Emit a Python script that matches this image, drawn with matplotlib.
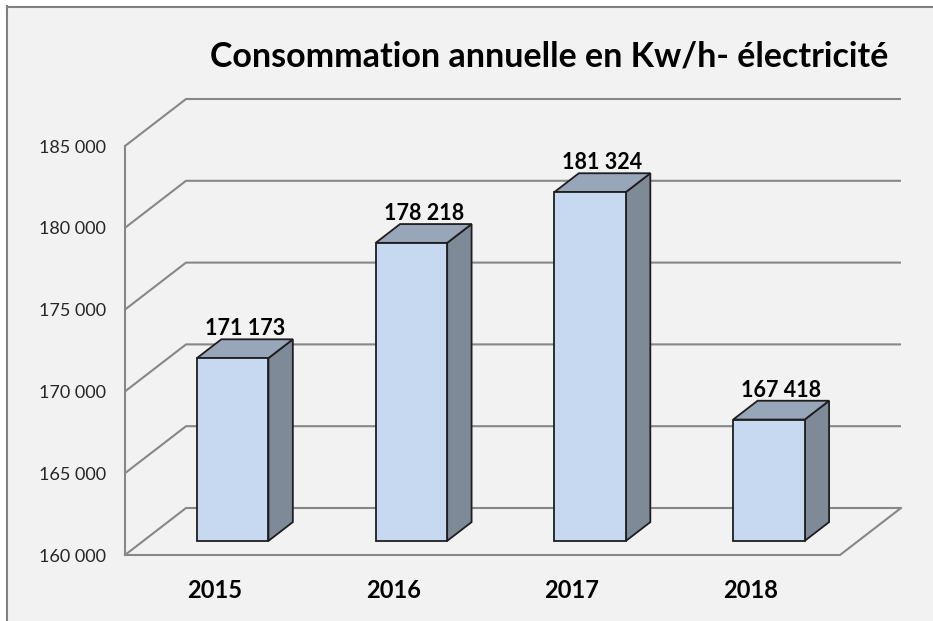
import matplotlib
matplotlib.use('Agg')
import matplotlib.pyplot as plt
from matplotlib.patches import Polygon, Rectangle
from matplotlib.lines import Line2D

plt.rcParams['font.family'] = ['Lato', 'DejaVu Sans']

years = ['2015', '2016', '2017', '2018']
consumption = [171173, 178218, 181324, 167418]
y_ticks = [160000, 165000, 170000, 175000, 180000, 185000]
title = 'Consommation annuelle en Kw/h- électricité'

W, H = 933, 621
bg = '#F2F2F2'
grid_col = '#878787'
front_col = '#C6D9F1'
side_col = '#7E8A98'
top_col = '#98A6BA'
edge_col = '#1E1E1E'

# fake 3d: depth z in [0, 1] shifts points right and up
DX = 0.3413
DY = 2873
z0, z1 = 0.30, 0.70
bar_w = 0.4
base = y_ticks[0]


def proj(x, v, z):
    return (x + z * DX, v + z * DY)


fig = plt.figure(figsize=(W / 100, H / 100), dpi=100, facecolor='white')
fig.patches.append(Rectangle((7 / W, 0), 1, 1 - 6 / H, transform=fig.transFigure,
                             facecolor=bg, edgecolor='none', zorder=-10))
fig.add_artist(Line2D([7 / W, 1], [1 - 6.5 / H] * 2, transform=fig.transFigure,
                      color='#808080', lw=1.5))
fig.add_artist(Line2D([7.5 / W] * 2, [0, 1 - 6 / H], transform=fig.transFigure,
                      color='#808080', lw=1.5))

ax = fig.add_axes([125 / W, 1 - 555 / H, (901 - 125) / W, (555 - 99) / H])
ax.set_facecolor('none')
n = len(years)
ax.set_xlim(0, n + DX)
ax.set_ylim(base, y_ticks[-1] + DY)
for s in ax.spines.values():
    s.set_visible(False)

# walls
for v in y_ticks:
    p0, p1, p2 = proj(0, v, 0), proj(0, v, 1), proj(n, v, 1)
    ax.plot([p0[0], p1[0], p2[0]], [p0[1], p1[1], p2[1]], color=grid_col, lw=1.5,
            clip_on=False, zorder=1, solid_capstyle='butt')
ax.plot([0, 0], [base, y_ticks[-1]], color=grid_col, lw=1.5, clip_on=False, zorder=1)
f1, f2 = proj(n, base, 0), proj(n, base, 1)
ax.plot([0, f1[0], f2[0]], [base, f1[1], f2[1]], color=grid_col, lw=1.5,
        clip_on=False, zorder=1)

# bars
for i, (yr, v) in enumerate(zip(years, consumption)):
    xa = i + 0.5 - bar_w / 2
    xb = i + 0.5 + bar_w / 2
    front = [proj(xa, base, z0), proj(xb, base, z0), proj(xb, v, z0), proj(xa, v, z0)]
    side = [proj(xb, base, z0), proj(xb, base, z1), proj(xb, v, z1), proj(xb, v, z0)]
    top = [proj(xa, v, z0), proj(xb, v, z0), proj(xb, v, z1), proj(xa, v, z1)]
    for pts, c in ((side, side_col), (top, top_col), (front, front_col)):
        ax.add_patch(Polygon(pts, closed=True, facecolor=c, edgecolor=edge_col,
                             lw=1.3, joinstyle='miter', zorder=3, clip_on=False))
    lx = i + 0.5 + DX * (z0 + z1) / 2
    ly = v + DY * z1
    ax.annotate(f'{v:,}'.replace(',', ' '), (lx, ly),
                xytext=(0, 4), textcoords='offset pixels', ha='center', va='baseline',
                fontsize=15.5, fontweight='bold', color='black', annotation_clip=False)
    ax.annotate(yr, (i + 0.5, base), xytext=(0, -35), textcoords='offset pixels',
                ha='center', va='center', fontsize=17, fontweight='bold',
                color='black', annotation_clip=False)

ax.set_xticks([])
ax.set_yticks(y_ticks)
ax.set_yticklabels([f'{t:,}'.replace(',', ' ') for t in y_ticks])
ax.tick_params(axis='y', length=0, pad=13.5, labelsize=13, labelcolor='#262626')

fig.text(549 / W, 1 - 67 / H, title, ha='center', va='baseline', fontsize=24.5,
         fontweight='bold', color='black')

fig.savefig('out.png', dpi=100, facecolor=fig.get_facecolor())
